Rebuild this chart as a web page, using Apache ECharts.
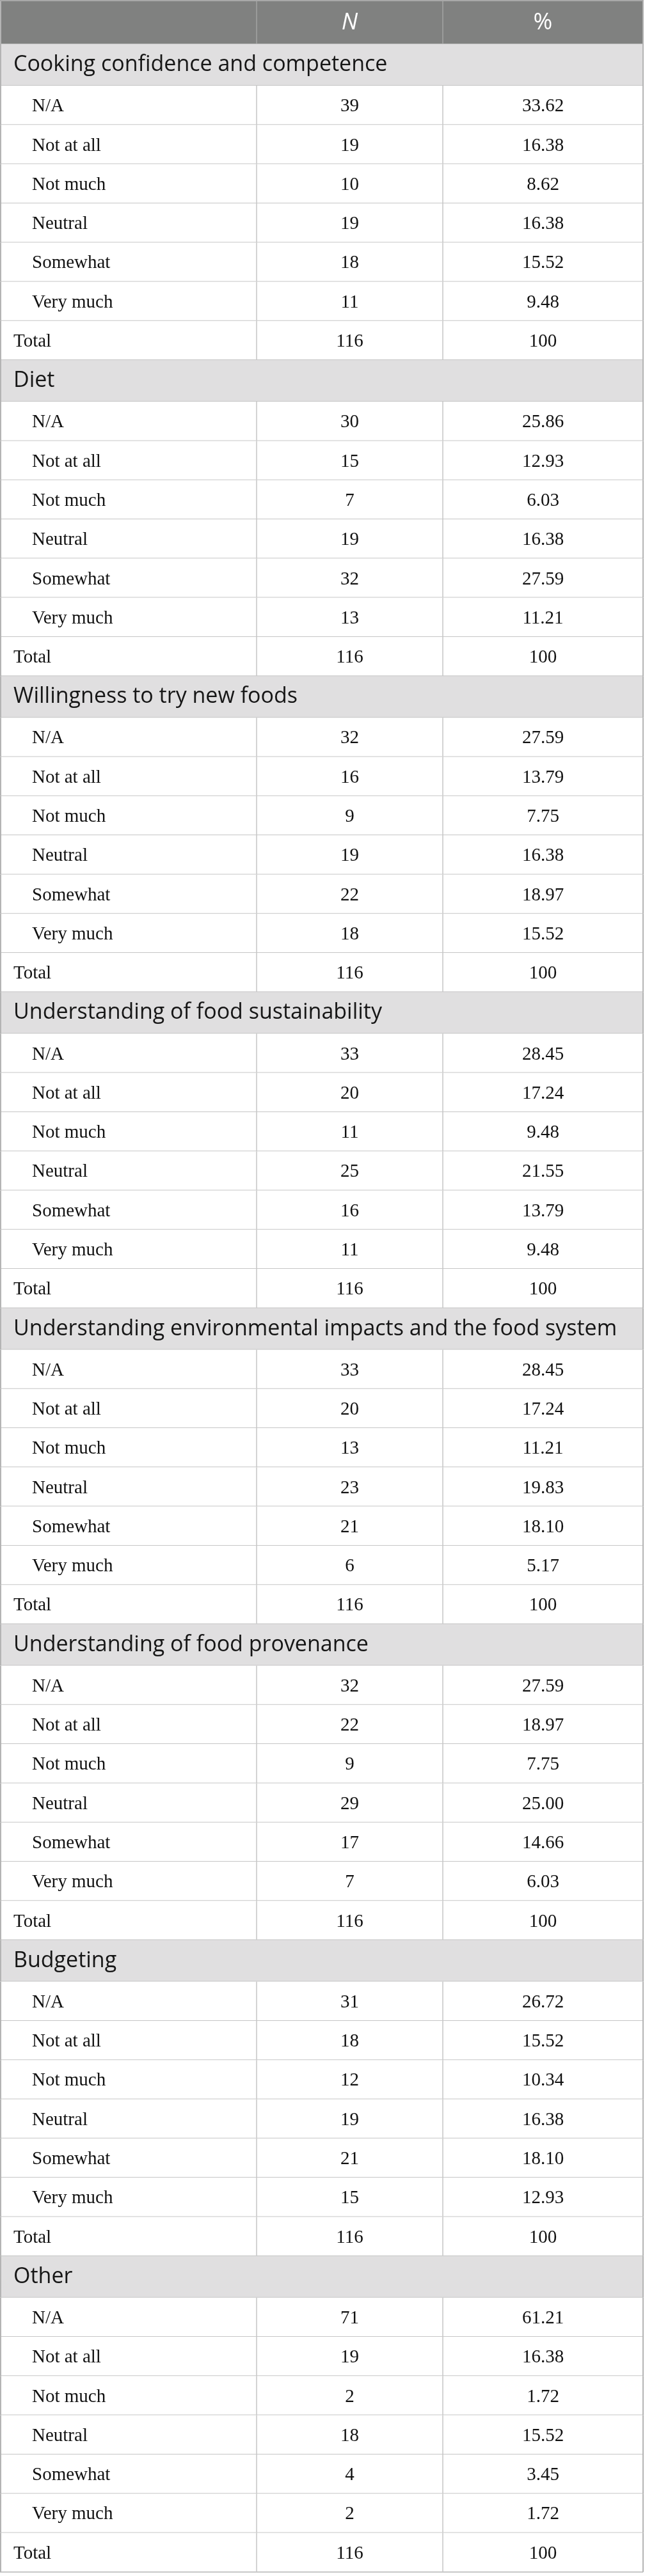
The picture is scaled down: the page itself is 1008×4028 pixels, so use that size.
<!DOCTYPE html>
<html>
<head>
<meta charset="utf-8">
<title>Responses table</title>
<script src="https://cdn.jsdelivr.net/npm/echarts@6/dist/echarts.min.js"></script>
<style>
  html, body { margin: 0; padding: 0; background: #fff; }
  #main { width: 1008px; height: 4028px; }
</style>
</head>
<body>
<div id="main"></div>
<script>
var headers = ['', 'N', '%'];
var sections = [
  'Cooking confidence and competence',
  'Diet',
  'Willingness to try new foods',
  'Understanding of food sustainability',
  'Understanding environmental impacts and the food system',
  'Understanding of food provenance',
  'Budgeting',
  'Other'
];
var responses = ['N/A', 'Not at all', 'Not much', 'Neutral', 'Somewhat', 'Very much'];
var counts = [
  [39, 19, 10, 19, 18, 11],
  [30, 15, 7, 19, 32, 13],
  [32, 16, 9, 19, 22, 18],
  [33, 20, 11, 25, 16, 11],
  [33, 20, 13, 23, 21, 6],
  [32, 22, 9, 29, 17, 7],
  [31, 18, 12, 19, 21, 15],
  [71, 19, 2, 18, 4, 2]
];
var percents = [
  ['33.62', '16.38', '8.62', '16.38', '15.52', '9.48'],
  ['25.86', '12.93', '6.03', '16.38', '27.59', '11.21'],
  ['27.59', '13.79', '7.75', '16.38', '18.97', '15.52'],
  ['28.45', '17.24', '9.48', '21.55', '13.79', '9.48'],
  ['28.45', '17.24', '11.21', '19.83', '18.10', '5.17'],
  ['27.59', '18.97', '7.75', '25.00', '14.66', '6.03'],
  ['26.72', '15.52', '10.34', '16.38', '18.10', '12.93'],
  ['61.21', '16.38', '1.72', '15.52', '3.45', '1.72']
];
var totalLabel = 'Total';
var totalN = [116, 116, 116, 116, 116, 116, 116, 116];
var totalPct = ['100', '100', '100', '100', '100', '100', '100', '100'];

// ---- layout (axis units = px) ----
var W = 1008, H = 4028;
var colEdges = [0, 401, 692, 1005];
var rowH = { header: 69, section: 65, data: 61.3 };

// build the row list
var rows = [];
var y = 0;
function addRow(kind, label, n, pct) {
  var h = kind === 'header' ? rowH.header : (kind === 'section' ? rowH.section : rowH.data);
  rows.push({ value: [y, y + h], kind: kind, label: label, n: n, pct: pct });
  y += h;
}
addRow('header', headers[0], headers[1], headers[2]);
for (var s = 0; s < sections.length; s++) {
  addRow('section', sections[s]);
  for (var r = 0; r < responses.length; r++) {
    addRow('data', responses[r], String(counts[s][r]), percents[s][r]);
  }
  addRow('total', totalLabel, String(totalN[s]), totalPct[s]);
}

var sansFont = '"Open Sans", "Noto Sans", sans-serif';
var serifFont = '"Liberation Serif", "DejaVu Serif", serif';
var lineColor = '#c6c6c6';

function renderRow(params, api) {
  var row = rows[params.dataIndex];
  var tl = api.coord([colEdges[0], api.value(0)]);
  var br = api.coord([colEdges[3], api.value(1)]);
  var x1 = api.coord([colEdges[1], 0])[0];
  var x2 = api.coord([colEdges[2], 0])[0];
  var cy = (tl[1] + br[1]) / 2;
  var c1 = (x1 + x2) / 2, c2 = (x2 + br[0]) / 2;
  var kids = [];
  var fill = row.kind === 'header' ? '#808180' : (row.kind === 'section' ? '#e0dfe0' : '#ffffff');
  kids.push({ type: 'rect', shape: { x: tl[0], y: tl[1], width: br[0] - tl[0], height: br[1] - tl[1] }, style: { fill: fill } });

  if (row.kind !== 'section') {
    var vc = row.kind === 'header' ? '#a3a4a3' : lineColor;
    kids.push({ type: 'line', shape: { x1: x1, y1: tl[1], x2: x1, y2: br[1] }, style: { stroke: vc, lineWidth: 1.5 } });
    kids.push({ type: 'line', shape: { x1: x2, y1: tl[1], x2: x2, y2: br[1] }, style: { stroke: vc, lineWidth: 1.5 } });
  }

  if (row.kind === 'header') {
    kids.push({ type: 'text', style: { text: row.n, x: c1, y: cy + 1, align: 'center', verticalAlign: 'middle', fill: '#ffffff', font: 'italic 36px ' + sansFont } });
    kids.push({ type: 'text', style: { text: row.pct, x: c2, y: cy + 1, align: 'center', verticalAlign: 'middle', fill: '#ffffff', font: '36px ' + sansFont } });
  } else if (row.kind === 'section') {
    kids.push({ type: 'text', style: { text: row.label, x: tl[0] + 21, y: cy, align: 'left', verticalAlign: 'middle', fill: '#161616', font: '34px ' + sansFont } });
  } else {
    var lx = row.kind === 'total' ? tl[0] + 21 : tl[0] + 50;
    var f = '29px ' + serifFont;
    kids.push({ type: 'text', style: { text: row.label, x: lx, y: cy + 2, align: 'left', verticalAlign: 'middle', fill: '#111111', font: f } });
    kids.push({ type: 'text', style: { text: row.n, x: c1, y: cy + 2, align: 'center', verticalAlign: 'middle', fill: '#111111', font: f } });
    kids.push({ type: 'text', style: { text: row.pct, x: c2, y: cy + 2, align: 'center', verticalAlign: 'middle', fill: '#111111', font: f } });
  }

  // row bottom rule and outer borders
  var bc = row.kind === 'header' ? '#b4b4b4' : lineColor;
  kids.push({ type: 'line', shape: { x1: tl[0], y1: br[1], x2: br[0], y2: br[1] }, style: { stroke: bc, lineWidth: 2 } });
  kids.push({ type: 'line', shape: { x1: tl[0] + 1, y1: tl[1], x2: tl[0] + 1, y2: br[1] }, style: { stroke: '#b4b4b4', lineWidth: 2 } });
  kids.push({ type: 'line', shape: { x1: br[0], y1: tl[1], x2: br[0], y2: br[1] }, style: { stroke: '#b4b4b4', lineWidth: 2 } });
  if (params.dataIndex === 0) {
    kids.push({ type: 'line', shape: { x1: tl[0], y1: tl[1] + 1, x2: br[0], y2: tl[1] + 1 }, style: { stroke: '#a8a8a8', lineWidth: 2 } });
  }
  return { type: 'group', children: kids };
}

var chart = echarts.init(document.getElementById('main'), null, { renderer: 'canvas' });
var option = {
  animation: false,
  grid: { left: 0, right: 0, top: 0, bottom: 0 },
  xAxis: { type: 'value', min: 0, max: W, show: false },
  yAxis: { type: 'value', min: 0, max: H, inverse: true, show: false },
  series: [{
    type: 'custom',
    renderItem: renderRow,
    encode: { y: [0, 1] },
    data: rows
  }]
};
chart.setOption(option);
</script>
</body>
</html>
